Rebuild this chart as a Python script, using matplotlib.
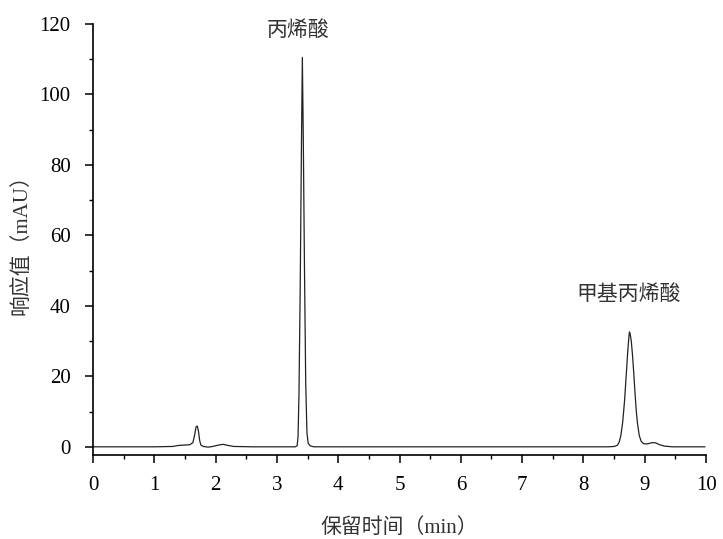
import matplotlib
matplotlib.use("Agg")
import matplotlib.pyplot as plt
from matplotlib.ticker import MultipleLocator

# chromatogram: retention time (min) / response (mAU)
time_min = [0.00, 1.00, 1.30, 1.40, 1.50, 1.58, 1.63, 1.66, 1.68, 1.70, 1.72,
            1.74, 1.76, 1.80, 1.88, 1.95, 2.05, 2.12, 2.20, 2.30, 2.60, 3.20,
            3.30, 3.33, 3.345, 3.36, 3.38, 3.40, 3.415, 3.43, 3.45, 3.47, 3.49,
            3.51, 3.54, 3.60, 4.50, 6.00, 7.50, 8.40, 8.50, 8.55, 8.58, 8.61,
            8.64, 8.67, 8.70, 8.72, 8.74, 8.75, 8.76, 8.78, 8.80, 8.82, 8.84,
            8.86, 8.88, 8.91, 8.94, 8.98, 9.03, 9.08, 9.13, 9.18, 9.24, 9.32,
            9.45, 9.98]
response = [0.0, 0.0, 0.1, 0.4, 0.5, 0.6, 1.2, 3.5, 5.6, 5.9, 4.5,
            1.8, 0.5, 0.1, -0.1, 0.1, 0.5, 0.7, 0.4, 0.1, 0.0, 0.0,
            0.0, 0.3, 3.0, 15.0, 45.0, 85.0, 110.5, 88.0, 50.0, 18.0, 4.0,
            1.0, 0.3, 0.0, 0.0, 0.0, 0.0, 0.0, 0.1, 0.4, 1.2, 3.2,
            7.0, 13.0, 21.0, 26.5, 31.0, 32.6, 32.2, 30.0, 26.0, 21.0, 15.5,
            10.5, 6.8, 3.2, 1.6, 0.9, 0.8, 1.0, 1.2, 1.1, 0.6, 0.2,
            0.0, 0.0]

peak_names = ["丙烯酸", "甲基丙烯酸"]
peak_label_x = [3.34, 8.73]
peak_label_y = [118.3, 43.4]

xlabel = "保留时间（min）"
ylabel = "响应值（mAU）"

mixed = ["Liberation Serif", "Noto Sans CJK SC"]

fig = plt.figure(figsize=(7.23, 5.39), dpi=100)
ax = fig.add_axes([0.1286, 0.156, 0.848, 0.7995])

ax.plot(time_min, response, color="#222222", lw=0.9)

ax.set_xlim(0, 10)
ax.set_ylim(-2.3, 120)
ax.xaxis.set_major_locator(MultipleLocator(1))
ax.xaxis.set_minor_locator(MultipleLocator(0.5))
ax.yaxis.set_major_locator(MultipleLocator(20))
ax.yaxis.set_minor_locator(MultipleLocator(10))

for side in ["top", "right"]:
    ax.spines[side].set_visible(False)
for side in ["left", "bottom"]:
    ax.spines[side].set_linewidth(1.2)

ax.tick_params(which="major", direction="out", length=6, width=1.1,
               labelsize=15)
ax.tick_params(which="minor", direction="out", length=3.2, width=1.0)
ax.tick_params(axis="x", which="major", pad=9)
ax.tick_params(axis="y", which="major", pad=10)
for lab in ax.get_xticklabels() + ax.get_yticklabels():
    lab.set_fontfamily("Liberation Serif")

for name, x, y in zip(peak_names, peak_label_x, peak_label_y):
    ax.text(x, y, name, ha="center", va="center", fontsize=15,
            family="Noto Sans CJK SC", color="#333333")

ax.set_xlabel(xlabel, fontsize=15, family=mixed, color="#333333", labelpad=17)
ax.set_ylabel(ylabel, fontsize=15, family=mixed, color="#333333", labelpad=6)

fig.savefig("out.png", dpi=100)
